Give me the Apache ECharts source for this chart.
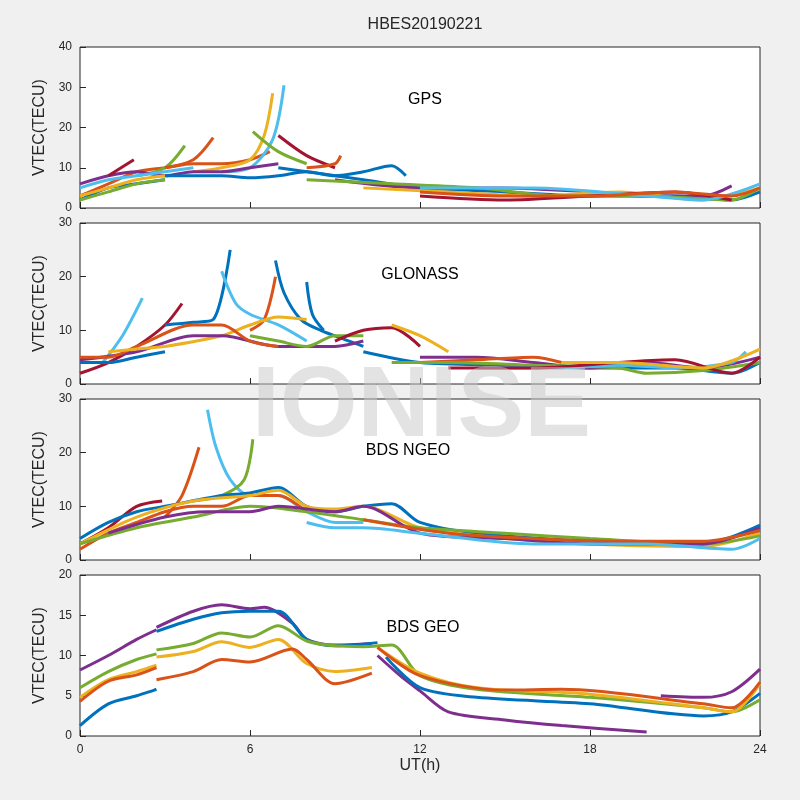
<!DOCTYPE html>
<html>
<head>
<meta charset="utf-8">
<script src="https://cdn.jsdelivr.net/npm/echarts@6/dist/echarts.min.js"></script>
<style>html,body{margin:0;padding:0;background:#f0f0f0;}#main{width:800px;height:800px;}</style>
</head>
<body>
<div id="main"></div>
<script>
// colour order, MATLAB style
var palette = ['#0072BD', '#D95319', '#EDB120', '#7E2F8E', '#77AC30', '#4DBEEE', '#A2142F'];
var panelNames = ['GPS', 'GLONASS', 'BDS NGEO', 'BDS GEO'];
var yMax = [40, 30, 30, 20];
var yInterval = [10, 10, 10, 5];
var xTicks = [0, 6, 12, 18, 24];

// each segment: [colour index, [[UT hour, VTEC], ...]]
var gpsSegs = [
    [1, [[0,3],[1,6],[2,9],[3,10],[4,11],[5,11],[6,12],[6.7,14]]],
    [2, [[4,9],[5,10],[6,12],[6.5,18],[6.8,28.5]]],
    [5, [[5,9],[6,10],[6.8,17],[7.2,30.5]]],
    [4, [[2,8],[3,10],[3.7,15.5]]],
    [1, [[3,10],[4,12],[4.7,17.5]]],
    [3, [[0,6],[1,8],[2,9],[3,8],[4,9],[5,9],[6,10],[7,11]]],
    [6, [[1,8],[1.9,12]]],
    [4, [[6.1,19],[7,14],[8,11]]],
    [6, [[7,18],[8,13],[9,10]]],
    [1, [[8,10],[9,11],[9.2,13]]],
    [0, [[3,8],[4,8],[5,8],[6,7.5],[7,8],[8,9],[9,8],[10,9],[11,10.5],[11.5,8]]],
    [5, [[0,5],[1,7],[2,8],[3,9],[4,10]]],
    [0, [[0,2],[1,5],[2,6],[3,7]]],
    [4, [[0,2],[1,4],[2,6],[3,7]]],
    [2, [[0,3],[1,5],[2,7],[3,8]]],
    [0, [[7,10],[10,7],[12,5],[15,4],[18,3],[21,3],[23,2],[24,4]]],
    [3, [[9,7],[12,5],[15,5],[18,4],[20,3],[22,3],[23,5.5]]],
    [2, [[10,5],[13,4],[16,3],[19,4],[22,2],[24,5]]],
    [4, [[8,7],[11,6],[14,5],[17,3],[20,3],[23,2],[24,5]]],
    [6, [[12,3],[15,2],[18,3],[21,4],[23,2]]],
    [5, [[12,5],[16,5],[20,3],[22,2],[24,6]]],
    [1, [[12,4],[15,3],[18,3],[21,4],[23,3],[24,5]]]
];
var glonassSegs = [
    [5, [[0.8,4],[1.5,9],[2.2,16]]],
    [6, [[0,2],[1,4],[2,7],[3,11],[3.6,15]]],
    [0, [[3,11],[4,11.5],[4.7,12],[5.3,25]]],
    [5, [[5,21],[5.5,15],[6,13],[7,11],[8,8]]],
    [1, [[6,10],[6.5,12],[6.9,20]]],
    [0, [[6.9,23],[7.2,17],[7.8,12],[8.5,10],[9.5,8],[10,7]]],
    [0, [[8,19],[8.2,13],[8.6,10]]],
    [2, [[3,7],[5,9],[6,11],[7,12.5],[8,12]]],
    [3, [[0,4.5],[2,6],[4,9],[5,9],[7,7],[9,7],[10,8]]],
    [1, [[0,5],[1,5],[2,7],[4,11],[5,11],[6,8],[7,7]]],
    [4, [[6,9],[7,8],[8,7],[9,9],[10,9]]],
    [6, [[9,8],[10,10],[11,10.5],[12,7]]],
    [2, [[11,11],[12,9],[13,6]]],
    [0, [[0,4],[1,4],[2,5],[3,6]]],
    [2, [[1,6],[2,6.5],[3,7]]],
    [0, [[10,6],[12,4],[15,3.5],[18,3],[21,3],[23,2],[24,4]]],
    [3, [[12,5],[14,5],[16,4],[18,3],[20,4],[22,3],[24,5]]],
    [1, [[12,4],[14,4.5],[16,5],[17,4]]],
    [4, [[11,4],[13,4],[16,3.5],[19,3],[20,2],[22,2.5],[24,4]]],
    [5, [[14,3],[17,3],[19,3.5],[21,3],[23,4],[23.5,6]]],
    [6, [[13,3],[16,3],[19,4],[21,4.5],[23,2],[24,5]]],
    [2, [[17,4],[19,4],[22,3],[24,6.5]]]
];
var ngeoSegs = [
    [5, [[4.5,28],[4.8,21],[5.3,15],[6,12],[7,12],[8,9],[9,7],[10,7]]],
    [4, [[4,11],[5,12],[5.8,15],[6.1,22.5]]],
    [1, [[3,8],[3.6,12],[4.2,21]]],
    [6, [[0,3],[1,6],[2,10],[2.9,11]]],
    [1, [[0,2],[1,5],[2,7],[3,9],[4,10],[5,10],[6,12],[7,12],[8,9]]],
    [0, [[0,4],[1,7],[2,9],[3,10],[5,12],[6,12.5],[7,13.5],[8,10],[9,9],[10,10],[11,10.5],[12,7],[14,5],[18,3.5],[22,3],[24,6.5]]],
    [2, [[0,3],[2,8],[4,11],[6,12],[7,13],[8,10],[9,9.5],[10,10],[12,6],[15,4],[18,3],[22,2.5],[24,5]]],
    [4, [[0,3],[2,6],[4,8],[6,10],[8,9],[10,7.5],[12,6],[15,5],[18,4],[22,3],[24,4.5]]],
    [3, [[1,5],[3,8],[4.5,9],[6,9],[7,10],[9,9],[10,10],[12,5],[15,4],[18,3],[22,3],[24,6]]],
    [1, [[10,7.5],[13,5],[16,4],[19,3.5],[22,3.5],[24,5.5]]],
    [5, [[8,7],[9,6],[10,6],[12,5],[16,3],[20,3],[23,2],[24,4]]]
];
var geoSegs = [
    [3, [[0,8.2],[1,10],[2,12],[2.7,13.2]]],
    [3, [[2.7,13.5],[4,15.5],[5,16.3],[6,15.8],[6.5,16],[7.5,14],[8,12],[9,11.3],[10.3,11.5]]],
    [3, [[10.5,10],[11.3,7.5],[12,5.6],[13,3],[15,2],[17,1.3],[20,0.5]]],
    [3, [[20.5,5],[22,4.8],[23,5.5],[24,8.3]]],
    [0, [[0,1.3],[1,4],[2,5],[2.7,5.8]]],
    [0, [[2.7,13],[4,14.5],[5,15.3],[6,15.5],[7,15.5],[8,12],[9,11.2],[10.5,11.6]]],
    [0, [[10.8,9.8],[12,6],[14,4.8],[18,4],[22,2.5],[23,3],[24,5.3]]],
    [4, [[0,6],[1,8],[2,9.5],[2.7,10.2]]],
    [4, [[2.7,10.7],[4,11.5],[5,12.8],[6,12.3],[7,13.7],[8,11.8],[9,11.2],[10,11.1],[11,11.3],[12,7.5],[14,5.8],[18,4.8],[22,3.5],[23,3],[24,4.5]]],
    [2, [[0,4.8],[1,7],[2,8],[2.7,8.8]]],
    [2, [[2.7,9.8],[4,10.5],[5,11.7],[6,11],[7,12],[8,9],[9,8],[10.3,8.5]]],
    [2, [[10.5,11],[12,7.8],[14,6],[18,5.2],[22,3.5],[23,3],[24,6.5]]],
    [1, [[0,4.3],[1,6.8],[2,7.6],[2.7,8.5]]],
    [1, [[2.7,7],[4,8],[5,9.5],[6,9.2],[7.5,10.8],[8,9.5],[9,6.5],[10.3,7.8]]],
    [1, [[10.5,11],[12,7.5],[15,5.7],[17,5.8],[22,4],[23,3.5],[24,6.7]]]
];
var allSegs = [gpsSegs, glonassSegs, ngeoSegs, geoSegs];

var chart = echarts.init(document.getElementById('main'));
var tops = [47, 223, 399, 575];
var grids = [], xAxes = [], yAxes = [], series = [], titles = [];
var labelPos = [[420, 87], [415, 262], [403, 438], [418, 615]];

titles.push({
    text: 'HBES20190221', left: 420, top: 12, textAlign: 'center',
    textStyle: {fontSize: 16, fontWeight: 'normal', color: '#262626', fontFamily: 'Liberation Sans'}
});

for (var i = 0; i < 4; i++) {
    grids.push({left: 80, width: 680, top: tops[i], height: 161, show: true,
        backgroundColor: '#ffffff', borderColor: '#262626', borderWidth: 1});
    xAxes.push({
        type: 'value', gridIndex: i, min: 0, max: 24, interval: 6,
        name: i === 3 ? 'UT(h)' : '', nameLocation: 'middle', nameGap: 22,
        nameTextStyle: {fontSize: 16, color: '#262626'},
        axisLine: {show: false},
        axisTick: {show: true, inside: true, length: 6, lineStyle: {color: '#262626'}},
        axisLabel: {show: i === 3, fontSize: 12, color: '#262626'},
        splitLine: {show: false}
    });
    yAxes.push({
        type: 'value', gridIndex: i, min: 0, max: yMax[i], interval: yInterval[i],
        name: 'VTEC(TECU)', nameLocation: 'middle', nameGap: 28,
        nameTextStyle: {fontSize: 16, color: '#262626'},
        axisLine: {show: false},
        axisTick: {show: true, inside: true, length: 6, lineStyle: {color: '#262626'}},
        axisLabel: {fontSize: 12, color: '#262626'},
        splitLine: {show: false}
    });
    titles.push({
        text: panelNames[i], left: labelPos[i][0], top: labelPos[i][1], textAlign: 'center',
        textStyle: {fontSize: 16, fontWeight: 'normal', color: '#000', fontFamily: 'Liberation Sans'}
    });
    allSegs[i].forEach(function (s) {
        series.push({
            type: 'line', xAxisIndex: i, yAxisIndex: i, data: s[1], smooth: 0.3,
            showSymbol: false, silent: true,
            lineStyle: {color: palette[s[0]], width: 3}
        });
    });
}

chart.setOption({
    backgroundColor: '#f0f0f0',
    animation: false,
    textStyle: {fontFamily: 'Liberation Sans'},
    title: titles,
    grid: grids,
    xAxis: xAxes,
    yAxis: yAxes,
    series: series,
    graphic: [{
        type: 'text', left: 252, top: 358, z: 100, silent: true,
        style: {text: 'IONISE', fontSize: 100, fontWeight: 'bold', fill: 'rgba(200,200,200,0.5)', fontFamily: 'Liberation Sans'}
    }]
});
</script>
</body>
</html>
